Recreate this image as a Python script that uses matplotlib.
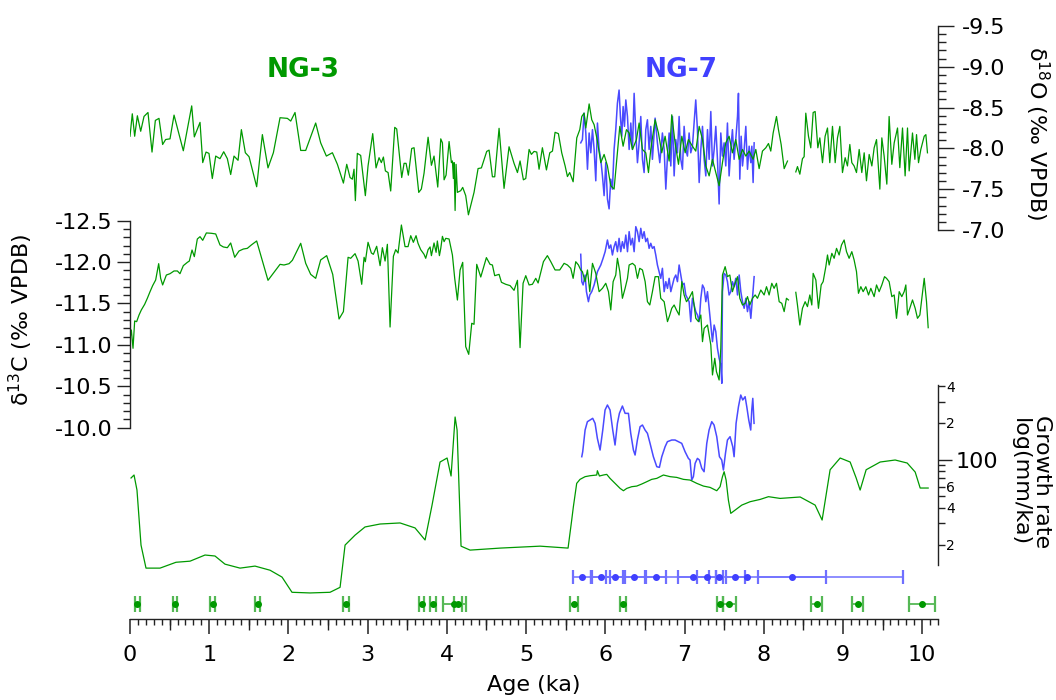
import numpy as np
import matplotlib
matplotlib.use("Agg")
import matplotlib.pyplot as plt
from matplotlib.ticker import FixedLocator, FixedFormatter, MultipleLocator, FormatStrFormatter, NullFormatter

plt.rcParams['font.family'] = ['DejaVu Sans']
plt.rcParams['axes.unicode_minus'] = False
plt.rcParams['mathtext.default'] = 'regular'

# ---------------- data ----------------
nan = np.nan
ng3_d18o_age = [
    0.000, 0.029, 0.059, 0.093, 0.135, 0.177, 0.227, 0.278, 0.320, 0.366,
    0.412, 0.450, 0.505, 0.556, 0.673, 0.779, 0.812, 0.884, 0.918, 0.960,
    0.997, 1.039, 1.082, 1.136, 1.183, 1.229, 1.271, 1.313, 1.364, 1.406,
    1.456, 1.503, 1.599, 1.671, 1.742, 1.810, 1.894, 1.987, 2.029, 2.083,
    2.155, 2.218, 2.344, 2.407, 2.479, 2.555, 2.618, 2.694, 2.736, 2.778,
    2.807, 2.828, 2.845, 2.870, 2.912, 2.971, 3.005, 3.064, 3.106, 3.144,
    3.173, 3.199, 3.224, 3.258, 3.291, 3.342, 3.367, 3.401, 3.430, 3.460,
    3.485, 3.514, 3.556, 3.586, 3.645, 3.678, 3.712, 3.763, 3.805, 3.838,
    3.885, 3.923, 3.944, 3.965, 3.990, 4.028, 4.057, 4.070, 4.082, 4.091,
    4.104, 4.116, 4.133, 4.175, 4.200, 4.238, 4.272, 4.343, 4.394, 4.436,
    4.503, 4.533, 4.575, 4.604, 4.659, 4.722, 4.785, 4.848, 4.891, 4.924,
    4.966, 4.996, 5.038, 5.067, 5.101, 5.135, 5.164, 5.206,
    5.257, 5.299, 5.333, 5.366, 5.408, 5.450, 5.493, 5.522, 5.551, 5.594,
    5.640, 5.678, 5.703, 5.732, 5.754, 5.796, 5.829, 5.859, 5.901, 5.943,
    5.985, 6.027, 6.069, 6.111, 6.141, 6.183, 6.225, 6.267, 6.301, 6.343,
    6.393, 6.427, 6.469, 6.511, 6.545, 6.574, 6.629, 6.671, 6.713, 6.755,
    6.806, 6.839, 6.881, 6.924, 6.966, 7.008, 7.050, 7.100, 7.142, 7.185,
    7.227, 7.269, 7.311, 7.353, 7.395, 7.437, 7.479, 7.521, 7.563, 7.605,
    7.647, 7.690, 7.732, 7.774, 7.816, 7.866, 7.900, 7.942, 7.984, 8.026,
    8.060, 8.089, 8.119, 8.161, 8.186, 8.220, 8.258, 8.300, 8.350,
    8.405, 8.426, 8.456, 8.489, 8.510, 8.531, 8.565, 8.594, 8.624, 8.649,
    8.683, 8.708, 8.742, 8.775, 8.805, 8.834, 8.868, 8.902, 8.931, 8.961,
    8.994, 9.028, 9.057, 9.087, 9.112, 9.141, 9.171, 9.205, 9.238, 9.268,
    9.297, 9.331, 9.365, 9.394, 9.424, 9.466, 9.491, 9.520, 9.554, 9.583,
    9.617, 9.647, 9.689, 9.718, 9.752, 9.785, 9.815, 9.836, 9.878, 9.908,
    9.929, 9.954, 9.983, 10.026, 10.047, 10.067]
ng3_d18o = [
    -8.149, -8.424, -8.149, -8.400, -8.210, -8.392, -8.440, -7.955, -8.343, -8.368,
    -8.048, -8.109, -8.117, -8.408, -7.971, -8.521, -8.141, -8.319, -7.826, -7.955,
    -7.939, -7.631, -7.906, -7.874, -7.959, -7.874, -7.680, -7.906, -7.854, -8.230,
    -7.947, -7.898, -7.530, -8.169, -7.761, -7.947, -8.376, -8.368, -8.335, -8.440,
    -7.975, -7.975, -8.311, -8.068, -7.906, -7.947, -7.805, -7.575, -7.805, -7.643,
    -7.623, -7.745, -7.360, -7.939, -7.914, -7.421, -7.785, -8.181, -7.761, -7.886,
    -7.826, -7.894, -7.724, -7.704, -7.478, -8.258, -8.238, -7.914, -7.643, -7.817,
    -7.817, -7.672, -7.999, -8.008, -7.461, -7.502, -7.696, -8.137, -7.793, -7.906,
    -7.526, -8.117, -8.068, -7.615, -7.672, -8.084, -7.826, -7.846, -7.631, -7.826,
    -7.239, -7.805, -7.461, -7.482, -7.522, -7.421, -7.186, -7.461, -7.753, -7.761,
    -7.963, -7.979, -7.652, -7.652, -8.246, -7.510, -8.020, -7.817, -7.704, -7.846,
    -7.615, -7.631, -7.987, -7.927, -7.963, -7.955, -7.745, -8.008,
    -7.736, -7.946, -7.967, -8.197, -8.181, -7.946, -7.785, -7.655, -7.704, -7.591,
    -8.129, -8.230, -8.391, -8.432, -8.250, -8.545, -8.351, -8.290, -8.088, -7.825,
    -7.926, -7.785, -7.542, -7.501, -7.825, -8.270, -8.027, -8.230, -8.189, -7.987,
    -8.108, -8.311, -7.987, -7.946, -7.704, -7.987, -8.351, -8.189, -7.946, -8.149,
    -7.845, -8.412, -8.068, -7.805, -8.149, -7.946, -8.108, -8.027, -7.967, -8.270,
    -8.108, -7.785, -7.663, -7.866, -7.704, -7.542, -7.825, -8.068, -8.149, -7.946,
    -8.108, -7.866, -7.987, -7.906, -7.967, -7.866, -7.987, -7.752, -7.967, -8.007,
    -8.060, -7.967, -8.189, -8.391, -8.230, -8.048, -7.752, -7.845, nan,
    -7.712, -7.777, -7.684, -7.874, -7.898, -8.432, -8.149, -8.007, -8.440, -8.452,
    -8.007, -8.129, -7.825, -8.149, -8.250, -7.825, -8.270, -7.825, -8.129, -8.270,
    -7.704, -7.886, -7.785, -8.048, -7.825, -7.785, -7.704, -7.987, -7.704, -7.946,
    -7.603, -7.926, -7.785, -8.007, -8.108, -7.501, -8.129, -7.906, -7.562, -8.391,
    -7.805, -8.068, -8.250, -7.764, -8.250, -7.663, -8.250, -7.724, -8.189, -7.866,
    -8.169, -7.825, -7.987, -8.149, -8.169, -7.946]

ng7_d18o_age = [
    5.690, 5.711, 5.732, 5.754, 5.775, 5.796, 5.817, 5.838, 5.859, 5.880,
    5.901, 5.922, 5.943, 5.964, 5.985, 6.006, 6.027, 6.048, 6.069, 6.090,
    6.111, 6.132, 6.153, 6.174, 6.191, 6.208, 6.225, 6.242, 6.259, 6.280,
    6.301, 6.322, 6.343, 6.364, 6.385, 6.406, 6.427, 6.448, 6.469, 6.490,
    6.511, 6.532, 6.553, 6.574, 6.595, 6.629, 6.658, 6.688, 6.721, 6.743,
    6.764, 6.785, 6.806, 6.827, 6.848, 6.869, 6.890, 6.911, 6.932, 6.953,
    6.974, 6.995, 7.016, 7.037, 7.058, 7.079, 7.100, 7.121, 7.142, 7.163,
    7.185, 7.206, 7.227, 7.248, 7.269, 7.290, 7.311, 7.332, 7.353, 7.374,
    7.395, 7.416, 7.437, 7.458, 7.479, 7.500, 7.521, 7.542, 7.563, 7.584,
    7.605, 7.626, 7.647, 7.669, 7.681, 7.698, 7.715, 7.732, 7.753, 7.774,
    7.795, 7.816, 7.837, 7.850, 7.866, 7.879]
ng7_d18o = [
    -8.068, -8.108, -8.432, -8.189, -7.744, -8.189, -7.946, -8.230, -7.987, -7.603,
    -8.311, -7.987, -7.866, -7.663, -7.421, -7.825, -7.380, -7.259, -7.623, -7.501,
    -7.987, -8.230, -8.553, -8.715, -8.391, -8.149, -8.513, -8.270, -8.594, -8.391,
    -7.987, -8.311, -7.987, -8.675, -8.189, -7.825, -8.068, -8.391, -7.866, -7.704,
    -8.230, -8.351, -7.987, -8.270, -7.866, -8.371, -8.068, -7.825, -8.189, -7.987,
    -7.501, -7.906, -8.189, -7.785, -8.391, -7.663, -8.108, -7.946, -8.391, -7.866,
    -7.744, -8.270, -7.987, -7.906, -8.189, -7.946, -8.027, -8.311, -8.594, -8.230,
    -7.582, -7.987, -8.270, -7.866, -7.663, -8.230, -7.866, -8.452, -7.785, -7.987,
    -8.270, -7.866, -7.319, -8.189, -7.906, -8.068, -7.785, -8.311, -7.663, -7.987,
    -8.230, -7.866, -8.108, -8.391, -8.675, -7.623, -8.149, -7.785, -7.987, -8.270,
    -7.744, -8.027, -7.825, -8.027, -7.582, -8.068]

ng3_d13c_age = [
    0.000, 0.017, 0.038, 0.059, 0.084, 0.114, 0.143, 0.185, 0.219, 0.253,
    0.286, 0.324, 0.362, 0.387, 0.412, 0.459, 0.505, 0.556, 0.598, 0.631,
    0.673, 0.724, 0.749, 0.783, 0.812, 0.850, 0.884, 0.918, 0.964, 1.027,
    1.082, 1.136, 1.178, 1.229, 1.271, 1.322, 1.376, 1.431, 1.481, 1.532,
    1.599, 1.742, 1.894, 1.944, 2.008, 2.050, 2.155, 2.218, 2.281, 2.344,
    2.407, 2.483, 2.559, 2.639, 2.694, 2.753, 2.786, 2.841, 2.879, 2.925,
    2.955, 2.971, 3.005, 3.047, 3.072, 3.114, 3.157, 3.186, 3.220, 3.249,
    3.283, 3.325, 3.354, 3.384, 3.426, 3.472, 3.510, 3.544, 3.577, 3.611,
    3.636, 3.670, 3.712, 3.733, 3.763, 3.788, 3.805, 3.838, 3.864, 3.880,
    3.906, 3.923, 3.944, 3.965, 3.986, 4.028, 4.070, 4.099, 4.133, 4.167,
    4.200, 4.238, 4.276, 4.314, 4.343, 4.377, 4.428, 4.499, 4.545, 4.575,
    4.604, 4.659, 4.689, 4.743, 4.798, 4.848, 4.891, 4.924, 4.962, 4.996,
    5.038, 5.080, 5.122, 5.152, 5.219,
    5.269, 5.312, 5.366, 5.425, 5.480, 5.522, 5.564, 5.594, 5.627, 5.661,
    5.690, 5.711, 5.745, 5.775, 5.804, 5.838, 5.880, 5.922, 5.964, 6.006,
    6.040, 6.069, 6.099, 6.132, 6.153, 6.183, 6.216, 6.250, 6.280, 6.301,
    6.343, 6.376, 6.406, 6.435, 6.469, 6.503, 6.532, 6.562, 6.595, 6.629,
    6.671, 6.700, 6.743, 6.785, 6.814, 6.839, 6.869, 6.898, 6.932, 6.966,
    6.995, 7.025, 7.058, 7.100, 7.142, 7.176, 7.206, 7.227, 7.248, 7.290,
    7.332, 7.353, 7.382, 7.403, 7.437, 7.458, 7.479, 7.513, 7.542, 7.572,
    7.605, 7.639, 7.669, 7.698, 7.732, 7.765, 7.795, 7.824, 7.858, 7.892,
    7.921, 7.963, 8.005, 8.035, 8.068, 8.102, 8.131, 8.161, 8.195, 8.228,
    8.258, 8.287, 8.312, 8.360,
    8.405, 8.426, 8.456, 8.489, 8.523, 8.552, 8.582, 8.607, 8.624, 8.658,
    8.691, 8.725, 8.750, 8.784, 8.805, 8.826, 8.860, 8.889, 8.919, 8.952,
    8.982, 9.015, 9.045, 9.078, 9.112, 9.141, 9.171, 9.196, 9.226, 9.255,
    9.289, 9.323, 9.352, 9.394, 9.424, 9.457, 9.491, 9.525, 9.550, 9.583,
    9.617, 9.647, 9.676, 9.710, 9.743, 9.773, 9.794, 9.815, 9.844, 9.878,
    9.912, 9.941, 9.971, 9.996, 10.026, 10.055, 10.076]
ng3_d13c = [
    -11.079, -11.180, -10.959, -11.289, -11.281, -11.361, -11.422, -11.490, -11.563, -11.643,
    -11.716, -11.784, -11.981, -11.804, -11.724, -11.844, -11.860, -11.893, -11.893, -11.860,
    -11.957, -11.997, -12.013, -12.146, -12.066, -12.279, -12.307, -12.263, -12.352, -12.348,
    -12.340, -12.207, -12.183, -12.174, -12.231, -12.058, -12.134, -12.158, -12.166, -12.207,
    -12.255, -11.780, -11.973, -11.965, -11.981, -12.022, -12.227, -11.985, -11.852, -11.804,
    -12.026, -12.078, -11.852, -11.313, -11.402, -12.058, -12.046, -12.102, -12.013, -11.732,
    -12.058, -12.005, -12.239, -12.110, -12.094, -12.191, -11.957, -12.174, -12.013, -12.215,
    -11.216, -12.070, -12.150, -12.110, -12.448, -12.187, -12.187, -12.319, -12.239, -12.319,
    -12.227, -12.150, -12.094, -12.046, -12.150, -12.183, -12.078, -12.231, -12.118, -12.255,
    -12.078, -12.166, -12.311, -12.247, -12.287, -12.279, -12.086, -11.804, -11.542, -11.905,
    -11.997, -10.979, -10.886, -11.261, -11.249, -11.973, -11.820, -12.054, -11.973, -11.965,
    -11.836, -11.852, -11.756, -11.732, -11.716, -11.659, -11.780, -10.967, -11.744, -11.836,
    -11.724, -11.732, -11.804, -11.748, -12.005,
    -12.078, -12.005, -11.905, -11.905, -11.985, -11.965, -11.925, -11.804, -12.005, -11.965,
    -11.905, -11.885, -11.764, -11.905, -11.643, -11.985, -11.864, -11.643, -11.683, -11.744,
    -11.643, -11.422, -11.764, -11.844, -12.046, -11.885, -11.563, -11.683, -11.804, -11.965,
    -11.985, -11.957, -11.804, -11.925, -11.905, -11.764, -11.522, -11.482, -11.643, -11.824,
    -11.824, -11.563, -11.522, -11.281, -11.361, -11.442, -11.482, -11.422, -11.361, -11.764,
    -11.603, -11.522, -11.563, -11.643, -11.321, -11.281, -11.361, -11.039, -11.200, -11.240,
    -10.999, -10.637, -10.838, -10.677, -10.576, -10.959, -11.844, -11.945, -11.824, -11.844,
    -11.643, -11.744, -11.824, -11.563, -11.482, -11.502, -11.583, -11.482, -11.563, -11.603,
    -11.563, -11.663, -11.603, -11.703, -11.603, -11.744, -11.683, -11.744, -11.522, -11.502,
    -11.402, -11.563, -11.543, nan,
    -11.635, -11.482, -11.240, -11.442, -11.522, -11.462, -11.603, -11.482, -11.864, -11.784,
    -11.442, -11.724, -11.764, -11.945, -12.086, -11.965, -12.106, -12.046, -12.166, -12.086,
    -12.207, -12.267, -12.126, -12.046, -12.126, -12.026, -11.885, -11.623, -11.703, -11.643,
    -11.703, -11.603, -11.683, -11.583, -11.724, -11.643, -11.724, -11.824, -11.804, -11.764,
    -11.583, -11.603, -11.321, -11.643, -11.583, -11.643, -11.724, -11.361, -11.442, -11.543,
    -11.442, -11.321, -11.361, -11.563, -11.804, -11.522, -11.208]

ng7_d13c_age = [
    5.690, 5.703, 5.720, 5.745, 5.762, 5.787, 5.804, 5.829, 5.859, 5.880,
    5.901, 5.922, 5.943, 5.972, 5.998, 6.027, 6.048, 6.069, 6.090, 6.111,
    6.132, 6.153, 6.174, 6.195, 6.216, 6.237, 6.259, 6.280, 6.301, 6.322,
    6.343, 6.364, 6.385, 6.406, 6.427, 6.448, 6.469, 6.490, 6.511, 6.532,
    6.553, 6.574, 6.595, 6.616, 6.637, 6.658, 6.679, 6.700, 6.721, 6.743,
    6.764, 6.785, 6.806, 6.827, 6.848, 6.869, 6.890, 6.911, 6.932, 6.953,
    6.974, 6.995, 7.016, 7.037, 7.058, 7.079, 7.100, 7.121, 7.142, 7.163,
    7.185, 7.206, 7.227, 7.248, 7.269, 7.290, 7.311, 7.332, 7.353, 7.374,
    7.395, 7.416, 7.437, 7.458, 7.471, 7.479, 7.500, 7.521, 7.542, 7.563,
    7.584, 7.605, 7.626, 7.647, 7.669, 7.690, 7.711, 7.732, 7.753, 7.774,
    7.795, 7.816, 7.837, 7.858, 7.879]
ng7_d13c = [
    -12.094, -11.764, -11.724, -11.844, -11.643, -11.522, -11.603, -11.643, -11.724, -11.804,
    -11.885, -11.925, -11.965, -12.046, -12.126, -12.267, -12.166, -12.207, -12.086, -12.187,
    -12.247, -12.126, -12.287, -12.126, -12.247, -12.166, -12.327, -12.126, -12.368, -12.207,
    -12.287, -12.126, -12.428, -12.368, -12.247, -12.408, -12.287, -12.368, -12.247, -12.287,
    -12.166, -12.227, -12.166, -12.187, -12.086, -11.965, -11.885, -11.804, -11.925, -11.643,
    -11.764, -11.683, -11.804, -11.643, -11.724, -11.804, -11.844, -11.764, -11.965, -11.844,
    -11.724, -11.744, -11.603, -11.563, -11.522, -11.281, -11.563, -11.482, -11.402, -11.361,
    -11.281, -11.563, -11.724, -11.683, -11.522, -11.643, -11.442, -11.240, -11.039, -11.240,
    -11.160, -10.959, -10.838, -10.757, -10.536, -11.643, -11.864, -11.844, -11.764, -11.603,
    -11.643, -11.764, -11.703, -11.804, -11.603, -11.844, -11.643, -11.522, -11.442, -11.563,
    -11.402, -11.522, -11.321, -11.563, -11.824]

ng3_growth_age = [
    0.013, 0.051, 0.088, 0.139, 0.202, 0.379, 0.581, 0.758, 0.947, 1.073,
    1.199, 1.389, 1.578, 1.768, 1.919, 2.045, 2.273, 2.525, 2.652, 2.715,
    2.841, 2.967, 3.157, 3.409, 3.598, 3.725, 3.813, 3.914, 4.003, 4.053,
    4.104, 4.129, 4.179, 4.293, 4.672, 5.177, 5.530, 5.576, 5.597, 5.639,
    5.681, 5.745, 5.808, 5.892, 5.900, 5.926, 5.976, 6.018, 6.060, 6.123,
    6.187, 6.229, 6.271, 6.334, 6.397, 6.460, 6.523, 6.586, 6.650, 6.692,
    6.734, 6.818, 6.902, 6.986, 7.070, 7.155, 7.239, 7.323, 7.407, 7.449,
    7.479, 7.500, 7.525, 7.554, 7.584, 7.639, 7.723, 7.828, 7.955, 8.060,
    8.207, 8.460, 8.649, 8.737, 8.838, 8.965, 9.091, 9.167, 9.217, 9.293,
    9.470, 9.659, 9.811, 9.912, 9.975, 10.076]
ng3_growth = [
    70.5, 74.6, 56.1, 19.8, 12.8, 12.8, 14.3, 14.6, 16.4, 16.1,
    13.8, 12.8, 13.3, 12.3, 10.8, 8.1, 8.0, 8.1, 8.9, 19.8,
    23.9, 27.9, 29.5, 30.1, 27.4, 21.8, 42.2, 95.4, 102.9, 73.2,
    223.7, 174.9, 19.4, 18.0, 18.7, 19.4, 18.7, 31.8, 40.9, 63.7,
    68.7, 72.3, 73.6, 74.6, 80.9, 73.2, 74.6, 75.5, 70.0, 63.7,
    57.9, 55.4, 57.9, 59.8, 60.5, 62.9, 65.7, 68.7, 70.0, 72.3,
    74.6, 72.3, 71.3, 68.7, 67.8, 63.7, 60.5, 59.0, 55.4, 59.8,
    72.3, 79.4, 67.8, 46.4, 36.1, 38.4, 42.2, 45.0, 47.0, 49.5,
    47.9, 49.2, 42.2, 31.8, 82.4, 102.9, 95.4, 70.5, 56.1, 82.4,
    95.4, 99.1, 93.6, 78.9, 58.3, 58.3]

ng7_growth_age = [
    5.703, 5.715, 5.745, 5.774, 5.808, 5.841, 5.871, 5.900, 5.934, 5.968,
    5.997, 6.027, 6.060, 6.094, 6.123, 6.153, 6.178, 6.216, 6.250, 6.292,
    6.321, 6.355, 6.376, 6.405, 6.439, 6.469, 6.502, 6.532, 6.565, 6.607,
    6.650, 6.683, 6.713, 6.755, 6.784, 6.839, 6.881, 6.923, 6.965, 7.007,
    7.049, 7.070, 7.091, 7.112, 7.134, 7.163, 7.188, 7.218, 7.247, 7.281,
    7.310, 7.344, 7.373, 7.407, 7.441, 7.470, 7.491, 7.517, 7.542, 7.575,
    7.609, 7.626, 7.651, 7.681, 7.710, 7.735, 7.765, 7.786, 7.811, 7.836,
    7.849, 7.862, 7.878]
ng7_growth = [
    105.5, 116.0, 174.8, 204.7, 211.3, 218.1, 198.4, 149.3, 119.7, 174.8,
    255.4, 280.7, 255.4, 174.8, 131.6, 198.4, 239.7, 275.4, 239.7, 239.7,
    164.2, 119.7, 108.9, 144.7, 186.2, 192.2, 174.8, 164.2, 135.8, 105.5,
    87.3, 86.2, 105.5, 127.5, 140.2, 144.7, 144.7, 140.2, 135.8, 116.0,
    102.2, 99.1, 67.8, 72.3, 93.0, 102.2, 99.1, 84.6, 79.4, 135.8,
    174.8, 204.7, 192.2, 154.1, 105.5, 99.1, 82.0, 112.4, 144.7, 154.1,
    127.5, 105.5, 198.4, 271.9, 339.2, 308.6, 328.6, 271.9, 211.3, 174.8,
    255.4, 318.4, 198.4]

ng3_dates = [0.092, 0.568, 1.044, 1.612, 2.723, 3.683, 3.822, 4.095, 4.137, 5.610,
             6.229, 7.449, 7.567, 8.670, 9.188, 9.996]
ng3_date_err = [0.03, 0.02, 0.035, 0.03, 0.04, 0.03, 0.04, 0.15, 0.05, 0.05,
                0.038, 0.038, 0.08, 0.07, 0.07, 0.16]
ng7_dates = [5.711, 5.943, 6.124, 6.364, 6.641, 7.113, 7.281, 7.441, 7.639, 7.786, 8.354]
ng7_date_err = [0.12, 0.12, 0.12, 0.14, 0.13, 0.19, 0.12, 0.04, 0.12, 1.97, 0.43]

x_ticks = [0, 1, 2, 3, 4, 5, 6, 7, 8, 9, 10]
d18o_ticks = [-9.5, -9.0, -8.5, -8.0, -7.5, -7.0]
d13c_ticks = [-12.5, -12.0, -11.5, -11.0, -10.5, -10.0]
growth_major = [100]
growth_minor = [20, 30, 40, 50, 60, 70, 80, 90, 200, 300, 400]
growth_minor_labels = ['2', '', '4', '', '6', '', '', '', '2', '', '4']

# ---------------- style ----------------
GREEN = '#009900'
BLUE = '#4040ff'
AX = '#222222'
FS = 16

fig = plt.figure(figsize=(10.56, 7), dpi=100)
W_PX, H_PX = 1056.0, 700.0
L = 130 / W_PX
W = 808 / W_PX


def frac(top_px, bot_px):
    return [L, 1 - bot_px / H_PX, W, (bot_px - top_px) / H_PX]


ax18 = fig.add_axes(frac(26, 230))
ax13 = fig.add_axes(frac(220.7, 427.7))
axg = fig.add_axes(frac(385, 600))
axe = fig.add_axes(frac(565, 619))

for ax in (ax18, ax13, axg, axe):
    ax.set_xlim(0, 10.2)
    ax.set_facecolor('none')
    for s in ax.spines.values():
        s.set_visible(False)
        s.set_color(AX)
        s.set_linewidth(1.0)
    ax.tick_params(axis='x', which='both', bottom=False, top=False,
                   labelbottom=False, labeltop=False)
    ax.tick_params(axis='y', which='both', colors=AX, labelcolor='black')

# --- d18O panel ---
ax18.plot(ng7_d18o_age, ng7_d18o, color=BLUE, lw=1.1, alpha=0.95)
ax18.plot(ng3_d18o_age, ng3_d18o, color=GREEN, lw=0.9)
ax18.set_ylim(-7.0, -9.5)
ax18.spines['right'].set_visible(True)
ax18.yaxis.tick_right()
ax18.yaxis.set_major_locator(FixedLocator(d18o_ticks))
ax18.yaxis.set_major_formatter(FormatStrFormatter('%.1f'))
ax18.yaxis.set_minor_locator(MultipleLocator(0.1))
ax18.tick_params(axis='y', which='major', length=11.5, width=1, labelsize=FS, pad=6)
ax18.tick_params(axis='y', which='minor', length=5.5, width=1)

# --- d13C panel ---
ax13.plot(ng7_d13c_age, ng7_d13c, color=BLUE, lw=1.1, alpha=0.95)
ax13.plot(ng3_d13c_age, ng3_d13c, color=GREEN, lw=0.9)
ax13.set_ylim(-10.0, -12.5)
ax13.spines['left'].set_visible(True)
ax13.yaxis.tick_left()
ax13.yaxis.set_major_locator(FixedLocator(d13c_ticks))
ax13.yaxis.set_major_formatter(FormatStrFormatter('%.1f'))
ax13.yaxis.set_minor_locator(MultipleLocator(0.1))
ax13.tick_params(axis='y', which='major', length=9.5, width=1, labelsize=FS, pad=3)
ax13.tick_params(axis='y', which='minor', length=5, width=1)

# --- growth panel ---
axg.set_yscale('log')
axg.plot(ng7_growth_age, ng7_growth, color=BLUE, lw=1.1, alpha=0.95)
axg.plot(ng3_growth_age, ng3_growth, color=GREEN, lw=0.9)
axg.set_ylim(7.0, 410)
axg.spines['right'].set_visible(True)
axg.spines['right'].set_bounds(13.6, 410)
axg.yaxis.tick_right()
axg.yaxis.set_major_locator(FixedLocator(growth_major))
axg.yaxis.set_major_formatter(FixedFormatter(['100']))
axg.yaxis.set_minor_locator(FixedLocator(growth_minor))
axg.yaxis.set_minor_formatter(FixedFormatter(growth_minor_labels))
axg.tick_params(axis='y', which='major', length=10, width=1, labelsize=FS, pad=3)
axg.tick_params(axis='y', which='minor', length=5, width=1, labelsize=10, pad=1)

# --- dates + x axis ---
axe.set_ylim(0, 1)
axe.set_yticks([])
ROW7, ROW3 = 0.78, 0.28
axe.errorbar(ng7_dates, [ROW7] * len(ng7_dates), xerr=ng7_date_err, fmt='o',
             color=BLUE, ms=4, ecolor='#6f6fff', elinewidth=1.1, capsize=5, capthick=1.6)
axe.errorbar(ng3_dates, [ROW3] * len(ng3_dates), xerr=ng3_date_err, fmt='o',
             color=GREEN, ms=4, ecolor='#55b855', elinewidth=1.3, capsize=5.6, capthick=1.6)
axe.spines['bottom'].set_visible(True)
axe.tick_params(axis='x', which='both', bottom=True, labelbottom=True, colors=AX,
                labelcolor='black')
axe.xaxis.set_major_locator(FixedLocator(x_ticks))
axe.xaxis.set_minor_locator(MultipleLocator(0.1))
axe.tick_params(axis='x', which='major', length=11, width=1.1, labelsize=FS, pad=8)
axe.tick_params(axis='x', which='minor', length=4.5, width=1)
sec = axe.secondary_xaxis('bottom')
sec.xaxis.set_major_locator(FixedLocator([v + 0.5 for v in x_ticks[:-1]]))
sec.xaxis.set_major_formatter(NullFormatter())
sec.tick_params(axis='x', which='major', length=8, width=1, colors=AX)
sec.spines['bottom'].set_visible(False)
axe.set_xlabel('Age (ka)', fontsize=FS, labelpad=7)

# --- labels ---
fig.text(303 / W_PX, 1 - 70 / H_PX, 'NG-3', color=GREEN, fontsize=19,
         fontweight='bold', ha='center', va='center')
fig.text(681 / W_PX, 1 - 70 / H_PX, 'NG-7', color=BLUE, fontsize=19,
         fontweight='bold', ha='center', va='center')
fig.text(1037 / W_PX, 1 - 133 / H_PX, 'δ$^{18}$O (‰ VPDB)', rotation=270,
         fontsize=FS, ha='center', va='center')
fig.text(21 / W_PX, 1 - 320 / H_PX, 'δ$^{13}$C (‰ VPDB)', rotation=90,
         fontsize=FS, ha='center', va='center')
fig.text(1031 / W_PX, 1 - 482 / H_PX, 'Growth rate\nlog(mm/ka)', rotation=270,
         fontsize=FS, ha='center', va='center', linespacing=1.15)

fig.savefig('out.png', dpi=100)
